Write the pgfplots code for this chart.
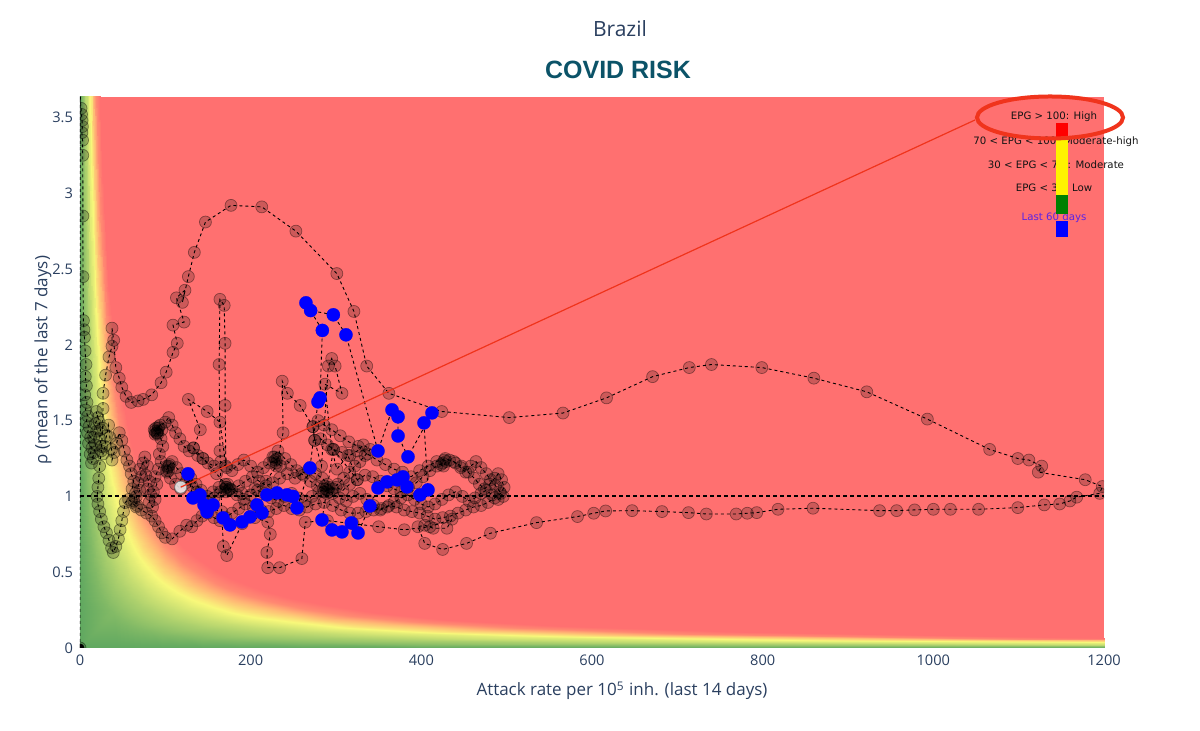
\documentclass[border=0pt]{standalone}
\usepackage{pgfplots}
\usepackage{pgfplotstable}
\pgfplotsset{compat=1.18}
\usepackage{fontspec}
\setmainfont{Open Sans}
\newfontfamily\headfont{Liberation Sans}
\newfontfamily\legfont{DejaVu Sans}

\definecolor{plotlytext}{RGB}{42,63,95}
\definecolor{titleteal}{RGB}{11,83,104}
\definecolor{riskred}{RGB}{255,112,112}
\definecolor{annot}{RGB}{240,52,28}
\definecolor{lastblue}{RGB}{0,0,255}
\definecolor{legtext}{RGB}{20,20,20}
\definecolor{legviolet}{RGB}{90,35,230}

% Risk field EPG = attack rate x rho. Every scanline is one level curve of EPG
% (value in column c); the level-0 line runs along the two axes.
\pgfplotstableread{
x y c
0 9.0141 0
0 4.0563 0
0 2.2535 0
0 1.4648 0
0 1.0592 0
0 0.81127 0
0 0.65352 0
0 0.54084 0
0 0.46197 0
0 0.40563 0
0 0.36282 0
0 0.32902 0
0 0.29972 0
0 0.27268 0
0 0.24789 0
0 0 0
44 0 0
48.4 0 0
53.2 0 0
58.4 0 0
64.4 0 0
72 0 0
82 0 0
96 0 0
116 0 0
144 0 0
188 0 0
260 0 0
400 0 0
720 0 0
1600 0 0
1.0 9.0141 9.01
2.2222 4.0563 9.01
4.0 2.2535 9.01
6.154 1.4648 9.01
8.5108 1.0592 9.01
11.111 0.81127 9.01
13.793 0.65352 9.01
16.667 0.54084 9.01
19.512 0.46197 9.01
22.222 0.40563 9.01
24.845 0.36282 9.01
27.397 0.32902 9.01
30.075 0.29972 9.01
33.058 0.27268 9.01
36.364 0.24789 9.01
40 0.22535 9.01
44 0.20486 9.01
48.4 0.18624 9.01
53.2 0.16944 9.01
58.4 0.15435 9.01
64.4 0.13997 9.01
72 0.1252 9.01
82 0.10993 9.01
96 0.093896 9.01
116 0.077708 9.01
144 0.062596 9.01
188 0.047948 9.01
260 0.03467 9.01
400 0.022535 9.01
720 0.01252 9.01
1600 0.005634 9.01
1.5 13.521 20.28
3.3333 6.0845 20.28
6.0 3.3803 20.28
9.231 2.1972 20.28
12.766 1.5887 20.28
16.667 1.2169 20.28
20.69 0.98028 20.28
25.0 0.81127 20.28
29.268 0.69296 20.28
33.333 0.60845 20.28
37.267 0.54422 20.28
41.096 0.49352 20.28
45.113 0.44958 20.28
49.587 0.40901 20.28
54.545 0.37183 20.28
60 0.33803 20.28
66 0.3073 20.28
72.6 0.27936 20.28
79.8 0.25415 20.28
87.6 0.23152 20.28
96.6 0.20996 20.28
108 0.18779 20.28
123 0.16489 20.28
144 0.14084 20.28
174 0.11656 20.28
216 0.093894 20.28
282 0.071922 20.28
390 0.052005 20.28
600 0.033803 20.28
1080 0.018779 20.28
2400 0.008451 20.28
1.75 15.775 27.61
3.8889 7.0986 27.61
7.0 3.9437 27.61
10.77 2.5634 27.61
14.894 1.8535 27.61
19.444 1.4197 27.61
24.138 1.1437 27.61
29.167 0.94648 27.61
34.146 0.80845 27.61
38.889 0.70986 27.61
43.478 0.63493 27.61
47.945 0.57578 27.61
52.632 0.52451 27.61
57.852 0.47718 27.61
63.636 0.4338 27.61
70 0.39437 27.61
77 0.35851 27.61
84.7 0.32592 27.61
93.1 0.29651 27.61
102.2 0.27011 27.61
112.7 0.24495 27.61
126 0.21909 27.61
143.5 0.19237 27.61
168 0.16432 27.61
203 0.13599 27.61
252 0.10954 27.61
329 0.083909 27.61
455 0.060673 27.61
700 0.039437 27.61
1260 0.021909 27.61
2800 0.0098595 27.61
2.0 18.028 36.06
4.4444 8.1127 36.06
8.0 4.507 36.06
12.308 2.9296 36.06
17.022 2.1183 36.06
22.222 1.6225 36.06
27.586 1.307 36.06
33.334 1.0817 36.06
39.024 0.92394 36.06
44.445 0.81126 36.06
49.69 0.72563 36.06
54.794 0.65803 36.06
60.15 0.59944 36.06
66.116 0.54535 36.06
72.727 0.49578 36.06
80 0.4507 36.06
88 0.40973 36.06
96.8 0.37248 36.06
106.4 0.33887 36.06
116.8 0.3087 36.06
128.8 0.27994 36.06
144 0.25039 36.06
164 0.21986 36.06
192 0.18779 36.06
232 0.15542 36.06
288 0.12519 36.06
376 0.095896 36.06
520 0.06934 36.06
800 0.04507 36.06
1440 0.025039 36.06
3200 0.011268 36.06
2.25 20.282 45.63
5.0 9.1268 45.63
9.0 5.0704 45.63
13.847 3.2958 45.63
19.149 2.3831 45.63
25.0 1.8254 45.63
31.035 1.4704 45.63
37.5 1.2169 45.63
43.902 1.0394 45.63
50.0 0.91267 45.63
55.901 0.81634 45.63
61.644 0.74029 45.63
67.669 0.67437 45.63
74.381 0.61352 45.63
81.818 0.55775 45.63
90 0.50704 45.63
99 0.46094 45.63
108.9 0.41904 45.63
119.7 0.38123 45.63
131.4 0.34728 45.63
144.9 0.31494 45.63
162 0.28169 45.63
184.5 0.24734 45.63
216 0.21127 45.63
261 0.17484 45.63
324 0.14084 45.63
423 0.10788 45.63
585 0.078008 45.63
900 0.050704 45.63
1620 0.028169 45.63
3600 0.012677 45.63
2.5 22.535 56.34
5.5556 10.141 56.34
10 5.6338 56.34
15.385 3.662 56.34
21.277 2.6479 56.34
27.778 2.0282 56.34
34.483 1.6338 56.34
41.667 1.3521 56.34
48.78 1.1549 56.34
55.556 1.0141 56.34
62.112 0.90704 56.34
68.493 0.82254 56.34
75.188 0.7493 56.34
82.645 0.68169 56.34
90.909 0.61972 56.34
100 0.56338 56.34
110 0.51216 56.34
121 0.4656 56.34
133 0.42359 56.34
146 0.38587 56.34
161 0.34993 56.34
180 0.31299 56.34
205 0.27482 56.34
240 0.23474 56.34
290 0.19427 56.34
360 0.15649 56.34
470 0.11987 56.34
650 0.086675 56.34
1000 0.056338 56.34
1800 0.031299 56.34
4000 0.014085 56.34
2.75 24.789 68.17
6.1111 11.155 68.17
11 6.1972 68.17
16.923 4.0282 68.17
23.405 2.9127 68.17
30.556 2.231 68.17
37.931 1.7972 68.17
45.834 1.4873 68.17
53.658 1.2704 68.17
61.112 1.1155 68.17
68.323 0.99774 68.17
75.342 0.90479 68.17
82.707 0.82423 68.17
90.91 0.74986 68.17
100.0 0.68169 68.17
110 0.61972 68.17
121 0.56338 68.17
133.1 0.51216 68.17
146.3 0.46595 68.17
160.6 0.42446 68.17
177.1 0.38492 68.17
198 0.34429 68.17
225.5 0.3023 68.17
264 0.25821 68.17
319 0.2137 68.17
396 0.17214 68.17
517 0.13186 68.17
715 0.095343 68.17
1100 0.061972 68.17
1980 0.034429 68.17
4400 0.015494 68.17
3.0 27.042 81.13
6.6667 12.169 81.13
12 6.7606 81.13
18.462 4.3944 81.13
25.532 3.1775 81.13
33.334 2.4338 81.13
41.38 1.9606 81.13
50.0 1.6225 81.13
58.536 1.3859 81.13
66.667 1.2169 81.13
74.534 1.0884 81.13
82.192 0.98705 81.13
90.226 0.89916 81.13
99.174 0.81803 81.13
109.09 0.74366 81.13
120 0.67606 81.13
132 0.61459 81.13
145.2 0.55872 81.13
159.6 0.50831 81.13
175.2 0.46304 81.13
193.2 0.41992 81.13
216 0.37559 81.13
246 0.32978 81.13
288 0.28169 81.13
348 0.23312 81.13
432 0.18779 81.13
564 0.14384 81.13
780 0.10401 81.13
1200 0.067606 81.13
2160 0.037559 81.13
4800 0.016902 81.13
}\riskgrid

% Daily trajectory: attack rate (x) and rho (y)
\pgfplotstableread{
x y
0 0
0.3 3.64
1.2 3.56
1.8 3.52
2.4 3.48
2.8 3.44
2.2 3.40
3.0 3.35
3.2 3.25
3.4 2.85
3.5 2.45
4.0 2.16
4.6 2.10
5.2 2.05
6.0 1.96
7.0 1.87
6.2 1.79
7.5 1.73
5.5 1.67
8.2 1.62
6.5 1.57
9.0 1.53
7.2 1.49
10.5 1.46
8.8 1.42
12.5 1.39
10.0 1.35
14.0 1.32
12.0 1.28
15.5 1.25
13.5 1.22
16.5 1.29
18.0 1.34
16.0 1.39
19.5 1.43
18.0 1.48
21.0 1.52
19.0 1.56
22.5 1.49
24.0 1.44
23.0 1.38
25.5 1.33
27.0 1.28
29.0 1.33
31.0 1.40
33.5 1.47
35.0 1.39
37.0 1.31
37.5 1.24
40.0 1.29
43.0 1.35
46.0 1.42
49.0 1.37
52.0 1.30
55.0 1.24
58.0 1.20
60.0 1.15
63.0 1.10
61.0 1.05
65.0 1.02
63.0 0.97
67.0 0.94
66.0 1.00
70.0 1.04
68.0 1.09
72.0 1.13
70.0 1.18
74.0 1.22
76.0 1.26
79.0 1.20
77.0 1.14
81.0 1.10
79.0 1.05
83.0 1.01
81.0 0.96
85.0 0.93
88.0 0.98
86.0 1.03
90.0 1.08
88.0 1.13
92.0 1.18
95.0 1.23
93.0 1.28
97.0 1.33
95.0 1.38
90.0 1.42
92.0 1.45
88.0 1.43
94.0 1.47
91.0 1.41
96.0 1.44
89.0 1.45
91.0 1.43
88.0 1.41
92.0 1.46
90.0 1.42
87.0 1.44
100.0 1.49
104.0 1.52
108.0 1.47
112.0 1.42
117.0 1.38
122.0 1.33
128.0 1.30
133.0 1.32
138.0 1.27
144.0 1.25
150.0 1.22
157.0 1.20
165.0 1.23
172.0 1.19
178.0 1.17
185.0 1.21
192.0 1.24
200.0 1.20
208.0 1.16
215.0 1.19
222.0 1.22
229.0 1.24
231.0 1.25
227.0 1.23
230.0 1.22
228.0 1.26
235.0 1.20
226.0 1.26
232.0 1.30
240.0 1.25
247.0 1.21
254.0 1.17
262.0 1.14
270.0 1.10
278.0 1.07
285.0 1.05
287.0 1.07
290.0 1.04
286.0 1.03
292.0 1.06
289.0 1.02
292.0 1.03
300.0 1.06
308.0 1.04
316.0 1.08
325.0 1.11
334.0 1.14
343.0 1.13
352.0 1.10
360.0 1.07
368.0 1.05
376.0 1.03
385.0 1.06
394.0 1.09
402.0 1.13
410.0 1.17
418.0 1.20
425.0 1.22
427.0 1.24
423.0 1.21
426.0 1.20
429.0 1.23
433.0 1.24
440.0 1.22
446.0 1.19
452.0 1.16
458.0 1.20
464.0 1.23
470.0 1.19
476.0 1.15
481.0 1.11
487.0 1.07
492.0 1.03
496.0 1.00
490.0 0.98
483.0 1.01
476.0 1.04
470.0 1.02
463.0 0.99
456.0 0.97
448.0 1.00
440.0 1.03
432.0 1.01
424.0 0.98
416.0 0.95
408.0 0.93
400.0 0.95
392.0 0.98
384.0 1.01
376.0 0.99
368.0 0.96
360.0 0.93
352.0 0.91
344.0 0.94
336.0 0.98
328.0 1.02
320.0 1.00
312.0 0.97
304.0 0.99
296.0 1.02
288.0 1.05
280.0 1.03
272.0 1.00
264.0 0.97
256.0 0.99
248.0 1.02
240.0 1.00
232.0 0.97
224.0 0.99
216.0 1.02
208.0 1.04
200.0 1.01
192.0 0.98
184.0 1.01
176.0 1.05
170.0 1.08
172.0 1.06
174.0 1.04
170.0 1.05
173.0 1.08
171.0 1.03
163.0 1.06
156.0 1.03
149.0 1.00
142.0 1.04
136.0 1.08
130.0 1.12
124.0 1.09
118.0 1.05
112.0 1.08
106.0 1.12
102.0 1.16
103.0 1.19
101.0 1.17
105.0 1.21
102.0 1.20
104.0 1.17
104.0 1.20
108.0 1.23
113.0 1.19
119.0 1.15
125.0 1.11
131.0 1.07
137.0 1.03
143.0 0.99
150.0 0.96
157.0 0.99
164.0 1.03
171.0 1.06
178.0 1.04
186.0 1.07
194.0 1.10
202.0 1.13
210.0 1.10
218.0 1.07
226.0 1.09
234.0 1.12
243.0 1.15
252.0 1.12
260.0 1.15
268.0 1.18
276.0 1.15
284.0 1.12
290.0 1.08
296.0 1.05
302.0 1.08
309.0 1.12
316.0 1.16
322.0 1.20
328.0 1.23
334.0 1.27
340.0 1.31
332.0 1.34
325.0 1.30
316.0 1.27
307.0 1.29
297.0 1.31
290.0 1.34
282.0 1.38
275.0 1.37
273.0 1.46
279.0 1.50
286.0 1.47
295.0 1.44
305.0 1.40
315.0 1.36
326.0 1.33
337.0 1.28
348.0 1.24
358.0 1.21
368.0 1.18
378.0 1.16
388.0 1.13
398.0 1.17
408.0 1.20
418.0 1.23
428.0 1.25
438.0 1.23
447.0 1.20
455.0 1.16
462.0 1.12
468.0 1.08
474.0 1.05
480.0 1.08
486.0 1.12
490.0 1.15
494.0 1.11
497.0 1.06
493.0 1.02
486.0 0.99
478.0 0.96
470.0 0.94
461.0 0.93
452.0 0.91
443.0 0.89
434.0 0.87
425.0 0.86
416.0 0.85
407.0 0.87
398.0 0.89
389.0 0.90
380.0 0.91
371.0 0.93
362.0 0.94
353.0 0.92
344.0 0.91
335.0 0.90
326.0 0.89
316.0 0.89
306.0 0.91
296.0 0.94
286.0 0.96
276.0 0.95
266.0 0.93
257.0 0.91
248.0 0.92
239.0 0.94
230.0 0.92
221.0 0.90
212.0 0.91
203.0 0.93
194.0 0.95
186.0 0.92
178.0 0.89
171.0 0.86
164.0 0.84
157.0 0.86
150.0 0.89
143.0 0.87
137.0 0.84
131.0 0.80
125.0 0.81
117.0 0.77
108.0 0.72
100.0 0.73
96.0 0.76
92.0 0.80
88.0 0.84
84.0 0.87
78.0 0.89
72.0 0.91
66.0 0.93
61.0 0.96
57.0 0.98
53.0 0.96
51.0 0.90
49.0 0.84
47.0 0.78
45.0 0.72
42.0 0.67
39.0 0.63
37.0 0.66
34.0 0.71
31.0 0.76
28.0 0.80
25.0 0.85
23.0 0.90
21.0 0.95
20.0 1.00
21.0 1.06
22.0 1.12
23.0 1.20
25.0 1.30
26.5 1.45
27.0 1.58
27.0 1.68
30.0 1.80
34.0 1.92
37.5 1.99
37.5 2.11
39.5 2.03
42.0 1.85
46.0 1.78
49.0 1.72
54.0 1.66
60.0 1.62
68.0 1.63
74.0 1.64
84.0 1.67
95.0 1.75
101.0 1.82
109.0 1.95
114.0 2.01
109.0 2.13
122.0 2.15
113.0 2.31
123.0 2.36
120.0 2.28
127.0 2.45
134.0 2.61
147.0 2.81
177.0 2.92
213.0 2.91
253.0 2.75
301.0 2.47
321.0 2.22
336.0 1.86
362.0 1.68
424.0 1.56
503.0 1.52
566.0 1.55
617.0 1.65
671.0 1.79
714.0 1.85
740.0 1.87
799.0 1.85
860.0 1.78
922.0 1.69
993.0 1.51
1066.0 1.31
1099.0 1.25
1112.0 1.24
1127.0 1.20
1123.0 1.16
1178.0 1.11
1198.0 1.065
1195.0 1.02
1168.0 0.995
1160.0 0.97
1148.0 0.95
1130.0 0.944
1099.0 0.926
1053.0 0.915
1020.0 0.915
1000.0 0.915
978.0 0.911
957.0 0.906
937.0 0.906
859.0 0.922
818.0 0.915
793.0 0.893
782.0 0.889
769.0 0.884
734.0 0.884
713.0 0.893
682.0 0.900
647.0 0.906
616.0 0.904
602.0 0.889
583.0 0.867
535.0 0.827
481.0 0.757
453.0 0.69
425.0 0.65
404.0 0.69
396.0 0.80
404.0 0.81
414.0 0.79
430.0 0.79
436.0 0.85
410.0 0.80
380.0 0.78
350.0 0.80
320.0 0.82
290.0 0.84
264.0 0.83
260.0 0.59
234.0 0.53
220.0 0.53
219.0 0.63
223.0 0.75
220.0 0.83
205.0 0.86
190.0 0.82
172.0 0.61
168.0 0.67
166.0 0.90
164.0 1.30
163.0 1.87
164.0 2.30
169.0 2.26
170.0 2.01
170.0 1.60
171.0 1.20
164.0 1.49
149.0 1.56
127.0 1.64
141.0 1.44
133.0 1.32
144.0 1.25
160.0 1.15
175.0 1.05
190.0 1.02
205.0 1.05
218.0 1.10
230.0 1.20
238.0 1.42
237.0 1.76
243.0 1.68
258.0 1.60
273.0 1.46
275.0 1.37
283.0 1.20
291.0 1.86
295.0 1.91
299.0 1.86
307.0 1.68
287.0 1.74
295.0 1.31
301.0 1.18
314.0 1.27
325.0 1.11
297.0 1.31
283.6 0.845
295.3 0.779
307.0 0.766
318.0 0.825
325.8 0.759
339.8 0.937
349.2 1.056
359.8 1.096
371.5 1.109
378.5 1.129
383.2 1.063
398.4 1.010
407.8 1.043
403.1 1.485
412.5 1.551
384.4 1.261
372.7 1.399
372.7 1.525
365.6 1.571
349.2 1.300
311.7 2.066
296.9 2.198
270.3 2.226
264.8 2.277
284.0 2.095
281.3 1.650
278.9 1.624
269.5 1.188
254.3 0.924
249.6 1.000
242.6 1.010
230.9 1.023
219.0 1.010
207.4 0.944
213.3 0.891
199.2 0.865
189.8 0.832
175.8 0.812
167.6 0.858
155.9 0.944
148.8 0.898
145.3 0.944
140.6 1.010
132.4 0.990
126.6 1.149
118.0 1.061
}\trajectory

% Last 60 days
\pgfplotstableread{
x y
283.6 0.845
295.3 0.779
307.0 0.766
318.0 0.825
325.8 0.759
339.8 0.937
349.2 1.056
359.8 1.096
371.5 1.109
378.5 1.129
383.2 1.063
398.4 1.010
407.8 1.043
403.1 1.485
412.5 1.551
384.4 1.261
372.7 1.399
372.7 1.525
365.6 1.571
349.2 1.300
311.7 2.066
296.9 2.198
270.3 2.226
264.8 2.277
284.0 2.095
281.3 1.650
278.9 1.624
269.5 1.188
254.3 0.924
249.6 1.000
242.6 1.010
230.9 1.023
219.0 1.010
207.4 0.944
213.3 0.891
199.2 0.865
189.8 0.832
175.8 0.812
167.6 0.858
155.9 0.944
148.8 0.898
145.3 0.944
140.6 1.010
132.4 0.990
126.6 1.149
}\lastsixty

\begin{document}
\begin{tikzpicture}[x=1pt,y=1pt]
\path[use as bounding box] (-40,-41.5) rectangle (560,324);
\begin{axis}[
  at={(0,0)}, anchor=south west,
  scale only axis, width=512pt, height=275.5pt,
  xmin=0, xmax=1200, ymin=0, ymax=3.635,
  xtick={0,200,...,1200}, ytick={0,0.5,...,3.5},
  axis line style={draw=none}, major tick length=0pt,
  axis background/.style={fill=riskred},
  clip marker paths=true,
  colormap={risk}{rgb255(0pt)=(96,168,96); rgb255(22pt)=(180,212,110); rgb255(42pt)=(248,248,122); rgb255(58pt)=(255,180,116); rgb255(74pt)=(255,112,112)},
  point meta min=0, point meta max=74,
  tick label style={font=\fontsize{7.3}{8}\selectfont, text=plotlytext},
  /pgf/number format/assume math mode=true,
  /pgf/number format/1000 sep={},
]
% risk background
\addplot[surf, shader=interp, mesh/rows=9, mesh/cols=31, point meta=explicit]
  table[x=x, y=y, meta=c] {\riskgrid};
% trajectory
\addplot[black, line width=0.45pt, dash pattern=on 1.5pt off 1.5pt,
  mark=*, mark size=3pt,
  mark options={solid, fill=black, fill opacity=0.2, draw=black, draw opacity=0.4, line width=0.35pt}]
  table[x=x, y=y] {\trajectory};
% rho = 1
\addplot[black, line width=1pt, dash pattern=on 2pt off 1.5pt] coordinates {(0,1) (1200,1)};
% last 60 days
\addplot[only marks, mark=*, mark size=3.3pt, lastblue, mark options={fill=lastblue, draw=lastblue, line width=0.1pt}]
  table[x=x, y=y] {\lastsixty};
% current point and start
\addplot[only marks, mark=*, mark size=3pt, mark options={fill=white, fill opacity=0.8, draw=gray, line width=0.3pt}]
  coordinates {(118,1.061)};
\addplot[only marks, mark=*, mark size=2pt, black] coordinates {(0,0)};
\coordinate (W) at (axis cs:118,1.061);
\end{axis}

% titles
\node[anchor=base, text=plotlytext, font=\fontsize{10.5}{12}\selectfont] at (270,305.5) {Brazil};
\node[anchor=base, text=titleteal, font=\headfont\bfseries\fontsize{12.5}{14}\selectfont] at (269,284.5) {COVID RISK};
\node[anchor=base, text=plotlytext, font=\fontsize{8.5}{10}\selectfont] at (271,-24) {Attack rate per 10\textsuperscript{5} inh. (last 14 days)};
\node[rotate=90, text=plotlytext, font=\fontsize{8.5}{10}\selectfont] at (-18.5,144) {ρ (mean of the last 7 days)};

% risk legend
\begin{scope}[font=\legfont\fontsize{5.1}{6}\selectfont, text=legtext]
\node at (487,265.5) {EPG > 100: High};
\node at (488,253) {70 < EPG < 100: Moderate-high};
\node at (488,241.5) {30 < EPG < 70 : Moderate};
\node at (487,230) {EPG < 30: Low};
\node[text=legviolet] at (487,215) {Last 60 days};
\end{scope}
\fill[red] (488,262.5) rectangle (494,254);
\fill[yellow] (488,254) rectangle (494,226.5);
\fill[green!50!black] (488,226.5) rectangle (494,217);
\fill[blue] (488,213.5) rectangle (494,205.5);

% highlight
\draw[annot, line width=0.6pt] (W) -- (447.5,264);
\draw[annot, line width=2pt] (485,265.25) ellipse [x radius=36.5pt, y radius=10.5pt];
\end{tikzpicture}
\end{document}
